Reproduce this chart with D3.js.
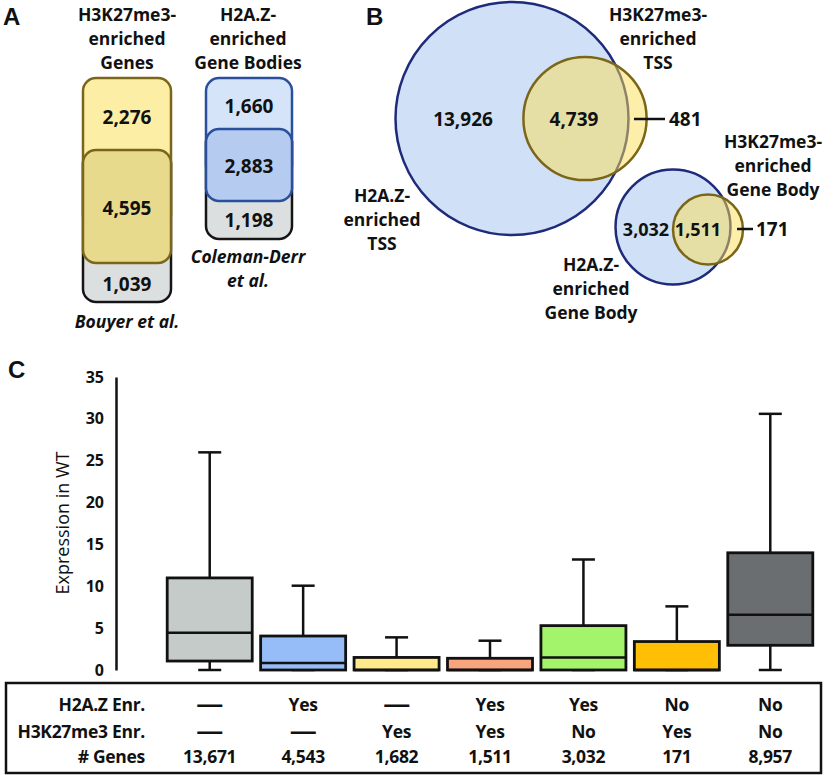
<!DOCTYPE html>
<html>
<head>
<meta charset="utf-8">
<script src="https://cdn.jsdelivr.net/npm/d3@7"></script>
<style>
  body { margin: 0; background: #fff; }
  text { font-family: "Open Sans", sans-serif; font-weight: bold; fill: #111; }
</style>
</head>
<body>
<div id="chart"></div>
<script>
// Panel A: overlap stacks
const bouyerCounts = ["2,276", "4,595", "1,039"];
const colemanCounts = ["1,660", "2,883", "1,198"];

// Panel B: venn counts
const tssCounts = [13926, 4739, 481];
const bodyCounts = [3032, 1511, 171];

// Panel C: box plot stats
const groups = ["g1", "g2", "g3", "g4", "g5", "g6", "g7"];
const whiskerLow = [0, 0, 0, 0, 0, 0, 0];
const q1 = [1.07, 0, 0, 0, 0, 0, 2.95];
const medians = [4.46, 0.84, 0, 0, 1.5, 0, 6.6];
const q3 = [11.0, 4.06, 1.5, 1.4, 5.3, 3.4, 14.0];
const whiskerHigh = [26.0, 10.07, 3.9, 3.5, 13.2, 7.6, 30.6];
const boxColors = ["#c4cbc8", "#96bdf7", "#ffe98a", "#f8a47c", "#a3f46a", "#ffbf05", "#6a6e70"];
const yTicks = [0, 5, 10, 15, 20, 25, 30, 35];

// table under the plot
const rowLabels = ["H2A.Z Enr.", "H3K27me3 Enr.", "# Genes"];
const h2azRow = ["\u2014", "Yes", "\u2014", "Yes", "Yes", "No", "No"];
const h3k27Row = ["\u2014", "\u2014", "Yes", "Yes", "No", "Yes", "No"];
const geneRow = ["13,671", "4,543", "1,682", "1,511", "3,032", "171", "8,957"];

const width = 833, height = 775;

const svg = d3.select("#chart")
    .append("svg")
    .attr("width", width)
    .attr("height", height);

// panel letters
svg.selectAll("text.panel")
    .data([["A", 3, 25], ["B", 366, 25], ["C", 8, 378]])
    .enter().append("text")
    .attr("class", "panel")
    .attr("x", d => d[1])
    .attr("y", d => d[2])
    .style("font-family", "Liberation Sans, Arial, sans-serif")
    .style("font-size", "24px")
    .text(d => d[0]);

// multi-line centered label helper
function label(lines, cx, y0, dy, opts = {}) {
    const t = svg.append("text")
        .attr("text-anchor", "middle")
        .style("font-size", (opts.size || 17.5) + "px")
        .style("font-style", opts.italic ? "italic" : null);
    lines.forEach((s, i) => {
        t.append("tspan").attr("x", cx).attr("y", y0 + i * dy).text(s);
    });
    return t;
}

// ---------- Panel A ----------
const yellowBorder = "#7b6518", blueBorder = "#2a4f9c";
const stackA = [
    // back to front
    { x: 83, y: 150, w: 88, h: 152, fill: "#dcdfe0", stroke: "#151515" },
    { x: 83, y: 78, w: 88, h: 150, fill: "#fdeea6", stroke: yellowBorder },
    { x: 83, y: 150, w: 88, h: 113, fill: "#e8da8c", stroke: yellowBorder },
    { x: 206, y: 129, w: 86, h: 110, fill: "#dcdfe0", stroke: "#151515" },
    { x: 206, y: 78, w: 86, h: 100, fill: "#d5e4f9", stroke: blueBorder },
    { x: 206, y: 129, w: 86, h: 72, fill: "#b5cbef", stroke: blueBorder }
];
svg.append("g").selectAll("rect")
    .data(stackA)
    .enter().append("rect")
    .attr("x", d => d.x).attr("y", d => d.y)
    .attr("width", d => d.w).attr("height", d => d.h)
    .attr("rx", 13).attr("ry", 13)
    .attr("fill", d => d.fill)
    .attr("stroke", d => d.stroke)
    .attr("stroke-width", 2.5);

const countPos = [
    [bouyerCounts[0], 127, 117], [bouyerCounts[1], 127, 208], [bouyerCounts[2], 127, 284],
    [colemanCounts[0], 249, 106], [colemanCounts[1], 249, 166], [colemanCounts[2], 249, 220]
];
svg.append("g").selectAll("text")
    .data(countPos)
    .enter().append("text")
    .attr("x", d => d[1]).attr("y", d => d[2] + 7)
    .attr("text-anchor", "middle")
    .style("font-size", "19px")
    .text(d => d[0]);

label(["H3K27me3-", "enriched", "Genes"], 127, 21, 24);
label(["H2A.Z-", "enriched", "Gene Bodies"], 248, 21, 24);
label(["Bouyer et al."], 127, 328, 24, { italic: true });
label(["Coleman-Derr", "et al."], 248, 263, 24, { italic: true });

// ---------- Panel B ----------
const rScale = d3.scaleSqrt()
    .domain([0, d3.sum(tssCounts.slice(0, 2))])
    .range([0, 116.5]);

const circles = [
    { cx: 512, cy: 118.5, n: tssCounts[0] + tssCounts[1], fill: "#cfe0f7", op: 1, stroke: "#1e2a7a" },
    { cx: 585, cy: 118.5, n: tssCounts[1] + tssCounts[2], fill: "#fbdd55", op: 0.5, stroke: "#7b6518" },
    { cx: 673, cy: 227, n: bodyCounts[0] + bodyCounts[1], fill: "#cfe0f7", op: 1, stroke: "#1e2a7a" },
    { cx: 708, cy: 229.5, n: bodyCounts[1] + bodyCounts[2], fill: "#fbdd55", op: 0.5, stroke: "#7b6518" }
];
svg.append("g").selectAll("circle")
    .data(circles)
    .enter().append("circle")
    .attr("cx", d => d.cx).attr("cy", d => d.cy)
    .attr("r", d => rScale(d.n))
    .attr("fill", d => d.fill)
    .attr("fill-opacity", d => d.op)
    .attr("stroke", d => d.stroke)
    .attr("stroke-width", 2.5);

const fmt = d3.format(",");
const vennText = [
    [tssCounts[0], 463, 119, "middle"], [tssCounts[1], 574, 119, "middle"], [tssCounts[2], 669, 119, "start"],
    [bodyCounts[0], 646, 229, "middle"], [bodyCounts[1], 698, 229, "middle"], [bodyCounts[2], 756, 229, "start"]
];
svg.append("g").selectAll("text")
    .data(vennText)
    .enter().append("text")
    .attr("x", d => d[1]).attr("y", d => d[2] + 7)
    .attr("text-anchor", d => d[3])
    .style("font-size", d => d[0] === bodyCounts[0] || d[0] === bodyCounts[1] ? "18px" : "19px")
    .text(d => fmt(d[0]));

// leader lines to the small slivers
svg.append("g").selectAll("line")
    .data([[634, 665, 119], [737, 753, 229]])
    .enter().append("line")
    .attr("x1", d => d[0]).attr("x2", d => d[1])
    .attr("y1", d => d[2]).attr("y2", d => d[2])
    .attr("stroke", "#111").attr("stroke-width", 2.5);

label(["H3K27me3-", "enriched", "TSS"], 658, 21, 24);
label(["H3K27me3-", "enriched", "Gene Body"], 773, 148, 24);
label(["H2A.Z-", "enriched", "TSS"], 382, 202, 24);
label(["H2A.Z-", "enriched", "Gene Body"], 591, 271, 24);

// ---------- Panel C ----------
const y = d3.scaleLinear().domain([0, 35]).range([670, 377]);
const x = d3.scaleBand().domain(groups).range([163, 817]).paddingInner(0.09).paddingOuter(0.045);

const yAxis = svg.append("g")
    .attr("transform", "translate(116,0)")
    .call(d3.axisLeft(y).tickValues(yTicks).tickSize(0).tickPadding(12));
yAxis.select(".domain").attr("stroke", "#111").attr("stroke-width", 2.5);
yAxis.selectAll("text")
    .style("font-family", "Open Sans, sans-serif")
    .style("font-weight", "bold")
    .style("font-size", "16px")
    .attr("fill", "#111");

svg.append("text")
    .attr("transform", "translate(69,523) rotate(-90)")
    .attr("text-anchor", "middle")
    .style("font-weight", "normal")
    .style("font-size", "18px")
    .text("Expression in WT");

const boxData = groups.map((g, i) => ({
    g, lo: whiskerLow[i], q1: q1[i], med: medians[i], q3: q3[i], hi: whiskerHigh[i], color: boxColors[i]
}));

const boxG = svg.append("g").selectAll("g")
    .data(boxData)
    .enter().append("g");

const cx = d => x(d.g) + x.bandwidth() / 2;
const capW = 23;

// whiskers
boxG.append("line")
    .attr("x1", cx).attr("x2", cx)
    .attr("y1", d => y(d.hi)).attr("y2", d => y(d.lo))
    .attr("stroke", "#111").attr("stroke-width", 2.5);
boxG.selectAll("line.cap")
    .data(d => [d.hi, d.lo].map(v => ({ v, c: cx(d) })))
    .enter().append("line")
    .attr("class", "cap")
    .attr("x1", d => d.c - capW / 2).attr("x2", d => d.c + capW / 2)
    .attr("y1", d => y(d.v)).attr("y2", d => y(d.v))
    .attr("stroke", "#111").attr("stroke-width", 2.5);

// boxes
boxG.append("rect")
    .attr("x", d => x(d.g))
    .attr("width", x.bandwidth())
    .attr("y", d => y(d.q3))
    .attr("height", d => y(d.q1) - y(d.q3))
    .attr("fill", d => d.color)
    .attr("stroke", "#111")
    .attr("stroke-width", 2.8);

// medians
boxG.append("line")
    .attr("x1", d => x(d.g)).attr("x2", d => x(d.g) + x.bandwidth())
    .attr("y1", d => y(d.med)).attr("y2", d => y(d.med))
    .attr("stroke", "#111").attr("stroke-width", 2.5);

// ---------- table ----------
svg.append("rect")
    .attr("x", 6).attr("y", 683)
    .attr("width", 815).attr("height", 90)
    .attr("fill", "none")
    .attr("stroke", "#111")
    .attr("stroke-width", 2.5);

const rowY = [705, 732, 757];
const rows = [h2azRow, h3k27Row, geneRow];

svg.append("g").selectAll("text")
    .data(rowLabels)
    .enter().append("text")
    .attr("x", 145)
    .attr("y", (d, i) => rowY[i] + 6)
    .attr("text-anchor", "end")
    .style("font-size", "17.5px")
    .style("letter-spacing", "-0.3px")
    .text(d => d);

rows.forEach((row, r) => {
    svg.append("g").selectAll("text")
        .data(row)
        .enter().append("text")
        .attr("x", (d, i) => x(groups[i]) + x.bandwidth() / 2)
        .attr("y", d => d === "\u2014" ? rowY[r] + 8 : rowY[r] + 6)
        .attr("text-anchor", "middle")
        .style("font-family", d => d === "\u2014" ? "Liberation Sans, Arial, sans-serif" : null)
        .style("font-size", d => d === "\u2014" ? "25px" : "17.5px")
        .style("letter-spacing", "-0.3px")
        .text(d => d);
});
</script>
</body>
</html>
